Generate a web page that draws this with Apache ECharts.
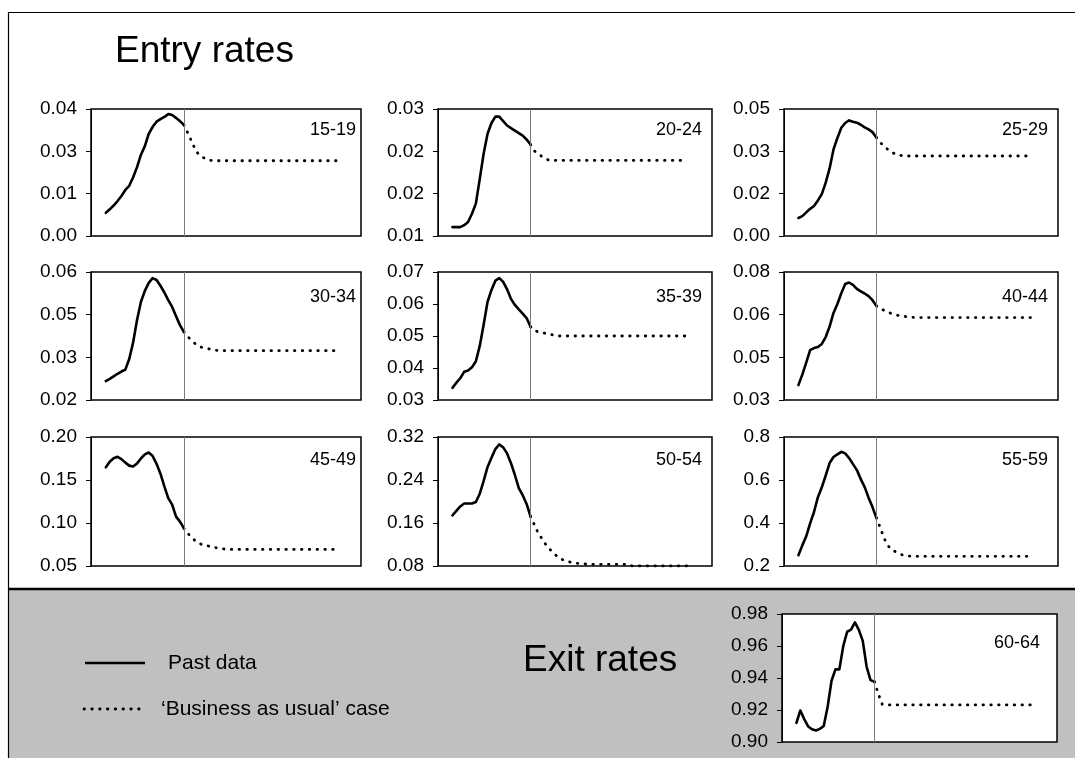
<!DOCTYPE html>
<html><head><meta charset="utf-8">
<script src="https://cdn.jsdelivr.net/npm/echarts@6/dist/echarts.min.js"></script>
<style>html,body{margin:0;padding:0;background:#fff}#c{width:1075px;height:758px}</style>
</head><body><div id="c"></div>
<script>
// ---------------- DATA ----------------
const AGE_GROUPS = ['15-19','20-24','25-29','30-34','35-39','40-44','45-49','50-54','55-59','60-64'];
const PAST_FIRST_YEAR = 1980;   // past data: annual, 1980..2000
const PROJ_FIRST_YEAR = 2000;   // 'business as usual' projection: annual, 2000..2040
const BASE_YEAR = 2000;         // vertical divider

const past_15_19 = [0.0073,0.0084,0.0096,0.0110,0.0126,0.0145,0.0158,0.0185,0.0217,0.0256,0.0283,0.0322,0.0344,0.0360,0.0368,0.0375,0.0384,0.0381,0.0372,0.0362,0.0350];
const proj_15_19 = [0.0350,0.0325,0.0298,0.0270,0.0254,0.0247,0.0241,0.0238,0.0237,0.0237,0.0237,0.0237,0.0237,0.0237,0.0237,0.0237,0.0237,0.0237,0.0237,0.0237,0.0237,0.0237,0.0237,0.0237,0.0237,0.0237,0.0237,0.0237,0.0237,0.0237,0.0237,0.0237,0.0237,0.0237,0.0237,0.0237,0.0237,0.0237,0.0237,0.0237,0.0237];

const past_20_24 = [0.0114,0.0114,0.0114,0.0117,0.0122,0.0135,0.0151,0.0190,0.0230,0.0261,0.0278,0.0288,0.0288,0.0281,0.0274,0.0270,0.0266,0.0262,0.0258,0.0252,0.0244];
const proj_20_24 = [0.0244,0.0234,0.0229,0.0225,0.0221,0.0219,0.0219,0.0219,0.0219,0.0219,0.0219,0.0219,0.0219,0.0219,0.0219,0.0219,0.0219,0.0219,0.0219,0.0219,0.0219,0.0219,0.0219,0.0219,0.0219,0.0219,0.0219,0.0219,0.0219,0.0219,0.0219,0.0219,0.0219,0.0219,0.0219,0.0219,0.0219,0.0219,0.0219,0.0219,0.0219];

const past_25_29 = [0.0071,0.0078,0.0093,0.0107,0.0118,0.0140,0.0165,0.0210,0.0266,0.0341,0.0386,0.0426,0.0445,0.0455,0.0450,0.0446,0.0438,0.0428,0.0420,0.0409,0.0388];
const proj_25_29 = [0.0388,0.0368,0.0353,0.0340,0.0329,0.0322,0.0318,0.0315,0.0315,0.0315,0.0315,0.0315,0.0315,0.0315,0.0315,0.0315,0.0315,0.0315,0.0315,0.0315,0.0315,0.0315,0.0315,0.0315,0.0315,0.0315,0.0315,0.0315,0.0315,0.0315,0.0315,0.0315,0.0315,0.0315,0.0315,0.0315,0.0315,0.0315,0.0315,0.0315,0.0315];

const past_30_34 = [0.0259,0.0266,0.0274,0.0282,0.0289,0.0295,0.0328,0.0380,0.0450,0.0507,0.0541,0.0566,0.0581,0.0575,0.0557,0.0536,0.0512,0.0491,0.0462,0.0434,0.0413];
const proj_30_34 = [0.0413,0.0398,0.0386,0.0375,0.0367,0.0363,0.0361,0.0358,0.0356,0.0354,0.0354,0.0354,0.0354,0.0354,0.0354,0.0354,0.0354,0.0354,0.0354,0.0354,0.0354,0.0354,0.0354,0.0354,0.0354,0.0354,0.0354,0.0354,0.0354,0.0354,0.0354,0.0354,0.0354,0.0354,0.0354,0.0354,0.0354,0.0354,0.0354,0.0354,0.0354];

const past_35_39 = [0.0338,0.0354,0.0368,0.0388,0.0392,0.0402,0.0421,0.0469,0.0536,0.0607,0.0644,0.0673,0.0681,0.0669,0.0646,0.0616,0.0597,0.0583,0.0570,0.0556,0.0529];
const proj_35_39 = [0.0529,0.0517,0.0513,0.0510,0.0508,0.0506,0.0502,0.0500,0.0500,0.0500,0.0500,0.0500,0.0500,0.0500,0.0500,0.0500,0.0500,0.0500,0.0500,0.0500,0.0500,0.0500,0.0500,0.0500,0.0500,0.0500,0.0500,0.0500,0.0500,0.0500,0.0500,0.0500,0.0500,0.0500,0.0500,0.0500,0.0500,0.0500,0.0500,0.0500,0.0500];

const past_40_44 = [0.0358,0.0399,0.0446,0.0495,0.0503,0.0507,0.0519,0.0546,0.0587,0.0640,0.0675,0.0717,0.0753,0.0759,0.0750,0.0734,0.0724,0.0716,0.0706,0.0690,0.0668];
const proj_40_44 = [0.0668,0.0657,0.0650,0.0643,0.0637,0.0632,0.0629,0.0627,0.0625,0.0623,0.0622,0.0622,0.0622,0.0622,0.0622,0.0622,0.0622,0.0622,0.0622,0.0622,0.0622,0.0622,0.0622,0.0622,0.0622,0.0622,0.0622,0.0622,0.0622,0.0622,0.0622,0.0622,0.0622,0.0622,0.0622,0.0622,0.0622,0.0622,0.0622,0.0622,0.0622];

const past_45_49 = [0.1647,0.1712,0.1752,0.1770,0.1743,0.1702,0.1667,0.1657,0.1693,0.1750,0.1798,0.1820,0.1779,0.1688,0.1573,0.1425,0.1289,0.1213,0.1074,0.1016,0.0940];
const proj_45_49 = [0.0940,0.0880,0.0830,0.0790,0.0760,0.0745,0.0735,0.0725,0.0715,0.0705,0.0700,0.0693,0.0693,0.0693,0.0693,0.0693,0.0693,0.0693,0.0693,0.0693,0.0693,0.0693,0.0693,0.0693,0.0693,0.0693,0.0693,0.0693,0.0693,0.0693,0.0693,0.0693,0.0693,0.0693,0.0693,0.0693,0.0693,0.0693,0.0693,0.0693,0.0693];

const past_50_54 = [0.1742,0.1825,0.1908,0.1962,0.1962,0.1962,0.1991,0.2145,0.2384,0.2643,0.2814,0.2976,0.3062,0.3007,0.2895,0.2713,0.2493,0.2248,0.2118,0.1954,0.1724];
const proj_50_54 = [0.1724,0.1567,0.1409,0.1303,0.1190,0.1108,0.1032,0.0970,0.0926,0.0894,0.0875,0.0863,0.0850,0.0844,0.0838,0.0831,0.0831,0.0831,0.0831,0.0831,0.0831,0.0831,0.0831,0.0831,0.0831,0.0831,0.0800,0.0800,0.0800,0.0800,0.0800,0.0800,0.0800,0.0800,0.0800,0.0800,0.0800,0.0800,0.0800,0.0800,0.0800];

const past_55_59 = [0.250,0.296,0.338,0.398,0.451,0.520,0.566,0.621,0.679,0.707,0.719,0.731,0.724,0.702,0.674,0.646,0.604,0.567,0.518,0.474,0.424];
const proj_55_59 = [0.424,0.378,0.328,0.294,0.276,0.265,0.256,0.250,0.247,0.245,0.245,0.245,0.245,0.245,0.245,0.245,0.245,0.245,0.245,0.245,0.245,0.245,0.245,0.245,0.245,0.245,0.245,0.245,0.245,0.245,0.245,0.245,0.245,0.245,0.245,0.245,0.245,0.245,0.245,0.245,0.245];

const past_60_64 = [0.9119,0.9197,0.9143,0.9097,0.9080,0.9072,0.9082,0.9100,0.9220,0.9383,0.9454,0.9454,0.9599,0.9689,0.9702,0.9748,0.9701,0.9632,0.9470,0.9387,0.9377];
const proj_60_64 = [0.9377,0.9300,0.9235,0.9232,0.9232,0.9232,0.9232,0.9232,0.9232,0.9232,0.9232,0.9232,0.9232,0.9232,0.9232,0.9232,0.9232,0.9232,0.9232,0.9232,0.9232,0.9232,0.9232,0.9232,0.9232,0.9232,0.9232,0.9232,0.9232,0.9232,0.9232,0.9232,0.9232,0.9232,0.9232,0.9232,0.9232,0.9232,0.9232,0.9232,0.9232];

// y-axis tick values (as shown, labels rounded)
const ticks_15_19 = [0, 0.013333, 0.026667, 0.04];
const ticks_20_24 = [0.01, 0.016667, 0.023333, 0.03];
const ticks_25_29 = [0, 0.016667, 0.033333, 0.05];
const ticks_30_34 = [0.02, 0.033333, 0.046667, 0.06];
const ticks_35_39 = [0.03, 0.04, 0.05, 0.06, 0.07];
const ticks_40_44 = [0.03, 0.046667, 0.063333, 0.08];
const ticks_45_49 = [0.05, 0.10, 0.15, 0.20];
const ticks_50_54 = [0.08, 0.16, 0.24, 0.32];
const ticks_55_59 = [0.2, 0.4, 0.6, 0.8];
const ticks_60_64 = [0.90, 0.92, 0.94, 0.96, 0.98];
const tickDecimals = [2,2,2,2,2,2,2,2,1,2];

const PAST = [past_15_19,past_20_24,past_25_29,past_30_34,past_35_39,past_40_44,past_45_49,past_50_54,past_55_59,past_60_64];
const PROJ = [proj_15_19,proj_20_24,proj_25_29,proj_30_34,proj_35_39,proj_40_44,proj_45_49,proj_50_54,proj_55_59,proj_60_64];
const TICKS = [ticks_15_19,ticks_20_24,ticks_25_29,ticks_30_34,ticks_35_39,ticks_40_44,ticks_45_49,ticks_50_54,ticks_55_59,ticks_60_64];

// ---------------- LAYOUT ----------------
const FONT = "'Liberation Sans', Arial, sans-serif";
const panels = [
  {l: 91,  t: 109, w: 270, h: 127, xMin: 1976.2, xMax: 2045.4},
  {l: 438, t: 109, w: 274, h: 127, xMin: 1976.3, xMax: 2046.5},
  {l: 784, t: 109, w: 274, h: 127, xMin: 1976.3, xMax: 2046.6},
  {l: 91,  t: 272, w: 270, h: 128, xMin: 1976.2, xMax: 2045.4},
  {l: 438, t: 272, w: 274, h: 128, xMin: 1976.3, xMax: 2046.5},
  {l: 784, t: 272, w: 274, h: 128, xMin: 1976.3, xMax: 2046.6},
  {l: 91,  t: 437, w: 270, h: 129, xMin: 1976.2, xMax: 2045.4},
  {l: 438, t: 437, w: 274, h: 129, xMin: 1976.3, xMax: 2046.5},
  {l: 784, t: 437, w: 274, h: 129, xMin: 1976.3, xMax: 2046.6},
  {l: 782, t: 614, w: 275, h: 128, xMin: 1976.3, xMax: 2046.8}
];
const labelPos = [
  [356,130],[702,130],[1048,130],
  [356,297],[702,297],[1048,297],
  [356,460],[702,460],[1048,460],
  [1040,643]
];

const grid = [], xAxis = [], yAxis = [], series = [];
panels.forEach((p, i) => {
  const tk = TICKS[i];
  grid.push({left: p.l, top: p.t, width: p.w, height: p.h, show: true,
    backgroundColor: '#fff', borderColor: '#000', borderWidth: 1.5, containLabel: false});
  xAxis.push({type: 'value', gridIndex: i, min: p.xMin, max: p.xMax, show: false});
  yAxis.push({type: 'value', gridIndex: i, min: tk[0], max: tk[tk.length - 1],
    axisLine: {show: true, lineStyle: {color: '#000', width: 1}},
    axisTick: {show: true, length: 5, customValues: tk, lineStyle: {color: '#000', width: 1}},
    axisLabel: {show: true, customValues: tk, margin: 14, color: '#000', fontSize: 19, fontFamily: FONT,
      formatter: v => Number(v).toFixed(tickDecimals[i])},
    splitLine: {show: false}});
  series.push({type: 'line', xAxisIndex: i, yAxisIndex: i, showSymbol: false, symbol: 'none',
    data: PAST[i].map((v, k) => [PAST_FIRST_YEAR + k, v]),
    lineStyle: {color: '#000', width: 2.6, cap: 'round', join: 'round'}, z: 3, silent: true,
    markLine: {silent: true, symbol: 'none', label: {show: false}, animation: false,
      lineStyle: {color: '#7a7a7a', width: 1, type: 'solid'}, data: [{xAxis: BASE_YEAR}]}});
  series.push({type: 'line', xAxisIndex: i, yAxisIndex: i, showSymbol: false, symbol: 'none',
    data: PROJ[i].map((v, k) => [PROJ_FIRST_YEAR + k, v]),
    lineStyle: {color: '#000', width: 2.8, type: [0.5, 7.3], cap: 'round'}, z: 3, silent: true});
});

const graphic = [
  {type: 'rect', z: -10, silent: true, shape: {x: 8, y: 589, width: 1070, height: 172}, style: {fill: '#c0c0c0'}},
  {type: 'line', z: 10, silent: true, shape: {x1: 8, y1: 12.5, x2: 1080, y2: 12.5}, style: {stroke: '#000', lineWidth: 1.2}},
  {type: 'line', z: 10, silent: true, shape: {x1: 8.5, y1: 12, x2: 8.5, y2: 760}, style: {stroke: '#000', lineWidth: 1.2}},
  {type: 'line', z: 10, silent: true, shape: {x1: 8, y1: 589, x2: 1080, y2: 589}, style: {stroke: '#000', lineWidth: 2.5}},
  {type: 'text', silent: true, x: 115, y: 52, style: {text: 'Entry rates', fill: '#000', font: "37px " + FONT, align: 'left', verticalAlign: 'middle', textAlign: 'left', textVerticalAlign: 'middle'}},
  {type: 'text', silent: true, x: 523, y: 661, style: {text: 'Exit rates', fill: '#000', font: "37px " + FONT, align: 'left', verticalAlign: 'middle', textAlign: 'left', textVerticalAlign: 'middle'}},
  {type: 'line', silent: true, shape: {x1: 85, y1: 663, x2: 145, y2: 663}, style: {stroke: '#000', lineWidth: 2.6}},
  {type: 'line', silent: true, shape: {x1: 84, y1: 709, x2: 141, y2: 709}, style: {stroke: '#000', lineWidth: 2.8, lineDash: [0.5, 7.3], lineCap: 'round'}},
  {type: 'text', silent: true, x: 168, y: 663, style: {text: 'Past data', fill: '#000', font: "21px " + FONT, align: 'left', verticalAlign: 'middle', textAlign: 'left', textVerticalAlign: 'middle'}},
  {type: 'text', silent: true, x: 161, y: 709, style: {text: '\u2018Business as usual\u2019 case', fill: '#000', font: "21px " + FONT, align: 'left', verticalAlign: 'middle', textAlign: 'left', textVerticalAlign: 'middle'}}
];
AGE_GROUPS.forEach((g, i) => {
  graphic.push({type: 'text', silent: true, z: 20, x: labelPos[i][0], y: labelPos[i][1],
    style: {text: g, fill: '#000', font: "18px " + FONT, align: 'right', verticalAlign: 'middle', textAlign: 'right', textVerticalAlign: 'middle'}});
});

const chart = echarts.init(document.getElementById('c'), null, {renderer: 'canvas'});
chart.setOption({animation: false, backgroundColor: '#fff', grid, xAxis, yAxis, series, graphic});
</script>
</body></html>
